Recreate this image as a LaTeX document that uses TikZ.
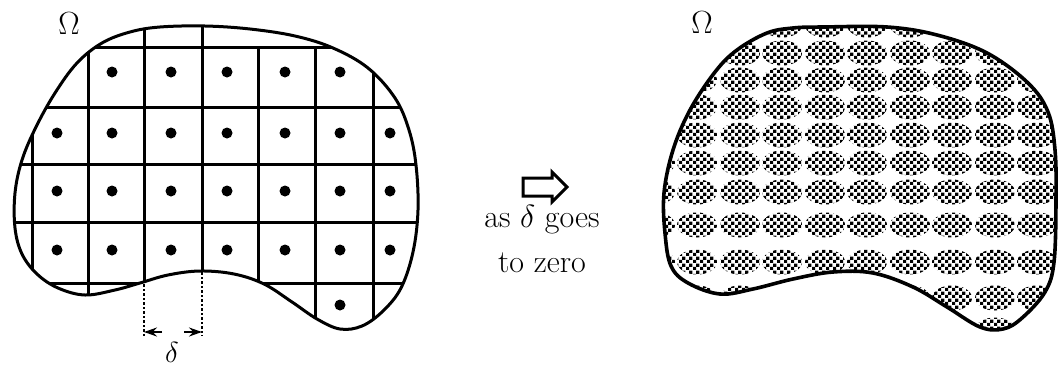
\RequirePackage{fix-cm}
\documentclass[tikz,border=0pt]{standalone}
\usetikzlibrary{patterns,arrows.meta}
\pgfdeclarepatternformonly{chk}{\pgfqpoint{0pt}{0pt}}{\pgfqpoint{7pt}{7pt}}{\pgfqpoint{7pt}{7pt}}{%
  \pgfpathrectangle{\pgfqpoint{0pt}{0pt}}{\pgfqpoint{3.5pt}{3.5pt}}%
  \pgfpathrectangle{\pgfqpoint{3.5pt}{3.5pt}}{\pgfqpoint{3.5pt}{3.5pt}}%
  \pgfusepath{fill}}
\newcommand\leftblob[1]{\path[#1] plot[smooth cycle, tension=0.6] coordinates {
 (160,27) (205,26) (250,29) (295,36) (333,48) (368,68) (395,98) (409,130) (416,165)
 (418,210) (413,252) (401,288) (383,311) (362,326) (340,329) (317,319) (292,302)
 (264,284) (234,274) (200,271) (168,275) (140,283) (115,290) (85,295) (58,288)
 (37,274) (22,254) (15,228) (15,193) (22,160) (36,127) (55,93) (77,63) (102,43) (130,32)};}
\newcommand\rightblob[1]{\path[#1] plot[smooth cycle, tension=0.6] coordinates {
 (823,27) (887,27) (937,35) (987,53) (1028,83) (1048,112) (1055,150) (1056,200)
 (1054,262) (1045,292) (1022,318) (1003,329) (980,327) (947,307) (913,287) (873,273)
 (833,272) (793,279) (753,289) (720,294) (688,283) (671,266) (665,233) (664,193)
 (673,150) (690,110) (715,72) (737,50) (767,33) (793,28)};}
\begin{document}
\begin{tikzpicture}[x=1pt,y=-1pt,
  outline/.style={draw, line width=3pt, line join=round},
  gridline/.style={line width=3pt},
  extline/.style={line width=2pt, dash dot},
  ctr/.style={circle, fill, inner sep=0pt, minimum size=11pt},
  lbl/.style={font=\fontsize{32}{36}\selectfont, inner sep=0pt},
  dimarrow/.style={line width=2pt, -{Stealth[length=13pt,width=9pt]}},
  blot/.style={pattern=chk}]
\useasboundingbox (0,0) rectangle (1059,367);

% ---- left domain: grid of cells ----
\begin{scope}
  \leftblob{clip}
  \foreach \y in {47,107,164,222,283} \draw[gridline] (0,\y) -- (430,\y);
  \foreach \x in {32,88,258,315,373} \draw[gridline] (\x,47) -- (\x,340);
  \foreach \x in {144,202} \draw[gridline] (\x,0) -- (\x,340);
\end{scope}
\leftblob{outline}

% cell centres
\foreach \x [count=\c] in {112,171,227,285,340} \node[ctr] (pa\c) at (\x,72) {};
\foreach \x [count=\c] in {57,112,171,227,285,340,390} {
  \node[ctr] (pb\c) at (\x,133) {};
  \node[ctr] (pc\c) at (\x,191) {};
  \node[ctr] (pd\c) at (\x,250) {};
}
\node[ctr] (pe1) at (340,305) {};

% delta dimension
\draw[extline] (144,284) -- (144,336);
\draw[extline] (202,272) -- (202,336);
\coordinate (e1) at (144,332);
\coordinate (e2) at (202,332);
\coordinate (a1) at (162,332);
\coordinate (a2) at (184,332);
\draw[dimarrow] (a1) -- (e1);
\draw[dimarrow] (a2) -- (e2);
\node[inner sep=0pt, font=\fontsize{29}{32}\selectfont] (delta) at (172,352) {$\delta$};

\node[lbl] (omegaL) at (69,24) {$\Omega$};

% ---- middle ----
\draw[line width=3pt, line join=miter] (523,178) -- (552,178) -- (552,172) -- (567,187)
  -- (552,202) -- (552,196) -- (523,196) -- cycle;
\node[lbl, anchor=base] (t1) at (542,227) {as $\delta$ goes};
\node[lbl, anchor=base] (t2) at (542,272) {to zero};

% ---- right domain ----
\begin{scope}
  \rightblob{clip}
  \foreach \y in {25,53,80,107,135,163,192,225,262,298,330} {
    \foreach \x in {655,697,740,782,825,867,910,952,995,1037,1080} {
      \path[blot] (\x,\y) ellipse [x radius=20pt, y radius=12.5pt];
    }
  }
\end{scope}
\rightblob{outline, line width=3.6pt}
\node[lbl] (omegaR) at (702,23) {$\Omega$};
\end{tikzpicture}
\end{document}
